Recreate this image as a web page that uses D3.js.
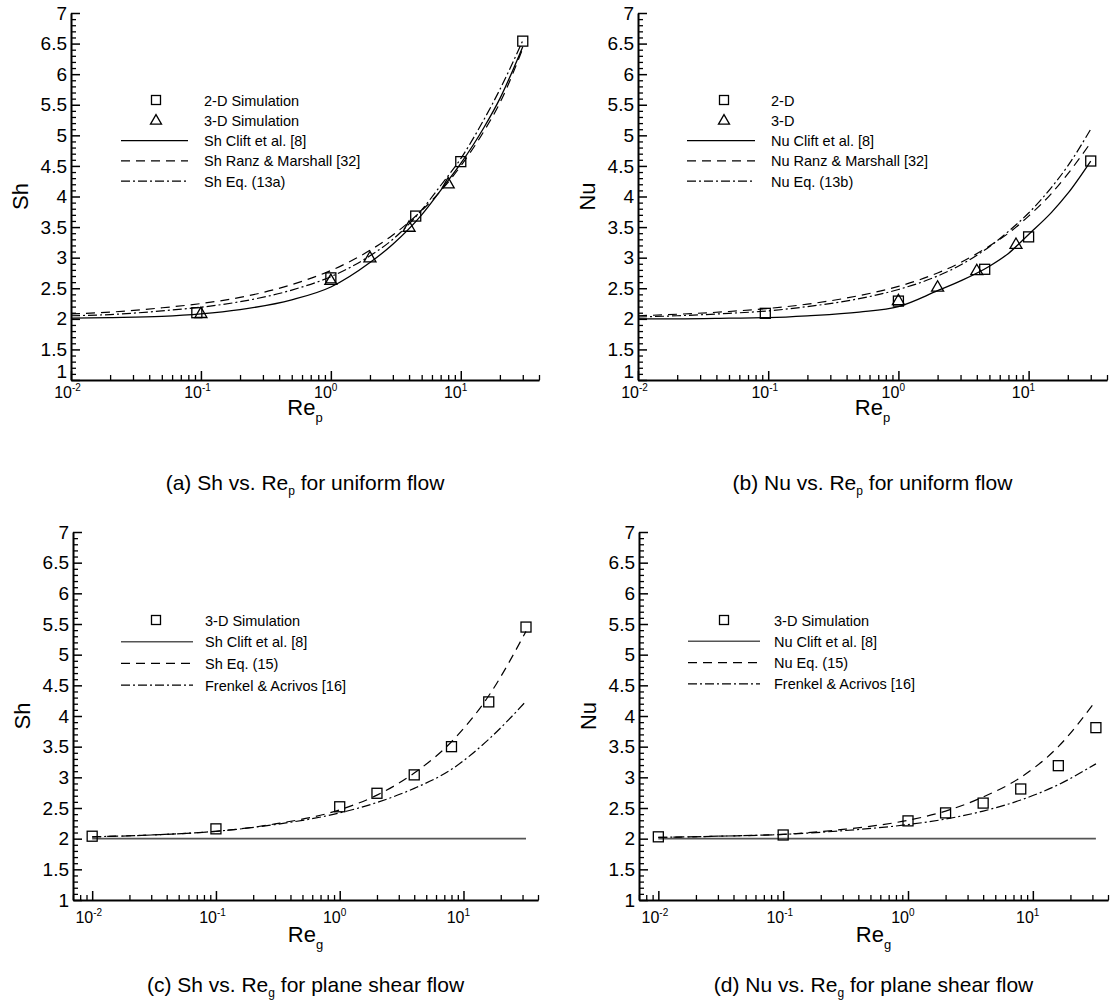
<!DOCTYPE html>
<html><head><meta charset="utf-8">
<script src="https://cdn.jsdelivr.net/npm/d3@7"></script>
<style>
body{margin:0;background:#fff}
svg{display:block}
text{font-family:"Liberation Sans",Arial,Helvetica,sans-serif;fill:#000}
</style>
</head><body>
<svg id="chart" width="1113" height="1004"></svg>
<script>
// ---------- DATA ----------
// Panel (a): Sh vs Re_p, uniform flow
const reLinesA   = [0.01,0.02,0.05,0.1,0.2,0.5,1,2,3,5,7,10,15,20,30];
const shClift    = [2.01,2.02,2.04,2.08,2.15,2.31,2.52,2.92,3.22,3.70,4.10,4.54,5.12,5.60,6.45];
const shRanz     = [2.08,2.11,2.18,2.25,2.35,2.56,2.79,3.12,3.37,3.77,4.09,4.50,5.06,5.53,6.42];
const shEq13a    = [2.05,2.07,2.13,2.19,2.28,2.47,2.69,3.03,3.30,3.78,4.18,4.62,5.25,5.75,6.55];
const reSq2DA    = [0.093,1,4.5,10,30];
const sh2D       = [2.10,2.67,3.68,4.57,6.54];
const reTri3DA   = [0.1,1,2,4,8];
const sh3D       = [2.09,2.63,3.00,3.50,4.21];

// Panel (b): Nu vs Re_p, uniform flow
const reLinesB   = [0.01,0.02,0.05,0.1,0.2,0.5,1,2,3,5,7,10,15,20,30];
const nuClift    = [2.00,2.00,2.01,2.02,2.05,2.11,2.20,2.46,2.62,2.86,3.07,3.38,3.74,4.05,4.58];
const nuRanz     = [2.05,2.075,2.12,2.17,2.24,2.38,2.53,2.75,2.92,3.19,3.40,3.68,4.05,4.37,4.88];
const nuEq13b    = [2.03,2.05,2.09,2.13,2.20,2.33,2.48,2.70,2.88,3.18,3.43,3.73,4.15,4.50,5.10];
const reSq2DB    = [0.095,1,4.6,10,30];
const nu2D       = [2.09,2.29,2.81,3.34,4.58];
const reTri3DB   = [1,2,4,8];
const nu3D       = [2.30,2.52,2.79,3.22];

// Panel (c): Sh vs Re_g, plane shear flow
const reG        = [0.01,0.1,1,2,4,8,16,32];
const shShear3D  = [2.04,2.16,2.52,2.74,3.04,3.50,4.23,5.45];
const reLinesG   = [0.01,0.03,0.1,0.3,1,2,4,8,16,32];
const shCliftG   = [2,2,2,2,2,2,2,2,2,2];
const shEq15     = [2.03,2.06,2.12,2.24,2.47,2.71,3.07,3.58,4.33,5.38];
const shFrenkel  = [2.03,2.06,2.12,2.23,2.42,2.59,2.82,3.13,3.62,4.24];

// Panel (d): Nu vs Re_g, plane shear flow
const nuShear3D  = [2.03,2.06,2.29,2.42,2.58,2.81,3.19,3.81];
const nuCliftG   = [2,2,2,2,2,2,2,2,2,2];
const nuEq15     = [2.02,2.04,2.07,2.15,2.30,2.45,2.68,3.00,3.50,4.25];
const nuFrenkel  = [2.02,2.04,2.07,2.13,2.23,2.32,2.45,2.63,2.88,3.22];

// Tick labels
const yTicks      = [1,1.5,2,2.5,3,3.5,4,4.5,5,5.5,6,6.5,7];
const yTickLabels = ["1","1.5","2","2.5","3","3.5","4","4.5","5","5.5","6","6.5","7"];
const xDecades    = [0.01,0.1,1,10];
const xDecadeExp  = ["-2","-1","0","1"];

// ---------- DRAWING ----------
const svg = d3.select("#chart");
const zip = (xs, ys) => xs.map((v,i)=>[v, ys[i]]);

const panels = [
  { x0:71, x1:539, yT:13, yB:380, xDomain:[0.01,40], yTitle:"Sh", xSub:"p", xlabPad:5, oneShift:-9, titleBase:415, capBase:490,
    caption:["(a) Sh vs. Re","p"," for uniform flow"],
    lines:[ {d:zip(reLinesA,shClift),s:"solid"}, {d:zip(reLinesA,shRanz),s:"dash"}, {d:zip(reLinesA,shEq13a),s:"dashdot"} ],
    squares:zip(reSq2DA,sh2D), tris:zip(reTri3DA,sh3D),
    legend:{sx:156, lx0:121, lx1:188, tx:204, y0:100, dy:20.3,
      items:[["sq","2-D Simulation"],["tri","3-D Simulation"],["solid","Sh Clift et al. [8]"],["dash","Sh Ranz & Marshall [32]"],["dashdot","Sh Eq. (13a)"]]}
  },
  { x0:638, x1:1107, yT:13, yB:380, xDomain:[0.01,40], yTitle:"Nu", xSub:"p", xlabPad:5, oneShift:-9, titleBase:415, capBase:490,
    caption:["(b) Nu vs. Re","p"," for uniform flow"],
    lines:[ {d:zip(reLinesB,nuClift),s:"solid"}, {d:zip(reLinesB,nuRanz),s:"dash"}, {d:zip(reLinesB,nuEq13b),s:"dashdot"} ],
    squares:zip(reSq2DB,nu2D), tris:zip(reTri3DB,nu3D),
    legend:{sx:724, lx0:687, lx1:755, tx:771, y0:100, dy:20.3,
      items:[["sq","2-D"],["tri","3-D"],["solid","Nu Clift et al. [8]"],["dash","Nu Ranz & Marshall [32]"],["dashdot","Nu Eq. (13b)"]]}
  },
  { x0:73, x1:538, yT:532, yB:900, xDomain:[0.007,40], yTitle:"Sh", xSub:"g", xlabPad:10, oneShift:0, titleBase:942, capBase:992,
    caption:["(c) Sh vs. Re","g"," for plane shear flow"],
    lines:[ {d:zip(reLinesG,shCliftG),s:"solidgray"}, {d:zip(reLinesG,shEq15),s:"dash"}, {d:zip(reLinesG,shFrenkel),s:"dashdot"} ],
    squares:zip(reG,shShear3D), tris:[],
    legend:{sx:156, lx0:121, lx1:193, tx:205, y0:620, dy:21.7,
      items:[["sq","3-D Simulation"],["solidgray","Sh Clift et al. [8]"],["dash","Sh Eq. (15)"],["dashdot","Frenkel & Acrivos [16]"]]}
  },
  { x0:639, x1:1108, yT:532, yB:900, xDomain:[0.007,40], yTitle:"Nu", xSub:"g", xlabPad:10, oneShift:0, titleBase:942, capBase:992,
    caption:["(d) Nu vs. Re","g"," for plane shear flow"],
    lines:[ {d:zip(reLinesG,nuCliftG),s:"solidgray"}, {d:zip(reLinesG,nuEq15),s:"dash"}, {d:zip(reLinesG,nuFrenkel),s:"dashdot"} ],
    squares:zip(reG,nuShear3D), tris:[],
    legend:{sx:724, lx0:688, lx1:760, tx:774, y0:620, dy:21.3,
      items:[["sq","3-D Simulation"],["solidgray","Nu Clift et al. [8]"],["dash","Nu Eq. (15)"],["dashdot","Frenkel & Acrivos [16]"]]}
  }
];

const styles = {
  solid:     {stroke:"#000", w:1.3, dash:null},
  solidgray: {stroke:"#555", w:1.6, dash:null},
  dash:      {stroke:"#000", w:1.2, dash:"9,6"},
  dashdot:   {stroke:"#000", w:1.2, dash:"9,3,2,3"}
};

function applyStyle(sel, key){
  const st = styles[key];
  sel.attr("fill","none").attr("stroke",st.stroke).attr("stroke-width",st.w);
  if (st.dash) sel.attr("stroke-dasharray",st.dash);
  return sel;
}
function drawSquare(g, cx, cy, s){
  g.append("rect").attr("x",cx-s/2).attr("y",cy-s/2).attr("width",s).attr("height",s)
   .attr("fill","none").attr("stroke","#000").attr("stroke-width",1.3);
}
function drawTri(g, cx, cy, s){
  const h = s*0.866;
  g.append("path").attr("d",`M${cx},${cy-h*0.6}L${cx+s/2},${cy+h*0.4}L${cx-s/2},${cy+h*0.4}Z`)
   .attr("fill","none").attr("stroke","#000").attr("stroke-width",1.3);
}

const yMinor = d3.range(10,71).map(v=>v/10).filter(v=>Math.abs(v*2-Math.round(v*2))>1e-6);

panels.forEach(p=>{
  const g = svg.append("g");
  const x = d3.scaleLog().domain(p.xDomain).range([p.x0,p.x1]);
  const y = d3.scaleLinear().domain([1,7]).range([p.yB,p.yT]);

  // x minor ticks
  const xMinor = [];
  [0.001,0.01,0.1,1,10].forEach(dec=>{ for(let k=2;k<=9;k++){ const v=dec*k; if(v>=p.xDomain[0]&&v<=p.xDomain[1]) xMinor.push(v);} });

  // y axis
  g.append("g").attr("transform",`translate(${p.x0},0)`)
    .call(d3.axisLeft(y).tickValues(yMinor).tickSizeInner(-5).tickSizeOuter(0).tickFormat(""))
    .call(s=>s.selectAll("line").attr("stroke-width",1.3));
  const ay = g.append("g").attr("transform",`translate(${p.x0},0)`)
    .call(d3.axisLeft(y).tickValues(yTicks).tickSizeInner(-9).tickSizeOuter(0).tickPadding(4)
      .tickFormat((d,i)=>yTickLabels[i]));
  ay.selectAll("line").attr("stroke-width",1.5);
  ay.select(".domain").attr("stroke-width",2);
  ay.selectAll("text").attr("font-size",19).attr("font-family",null).attr("fill","#000");
  ay.selectAll("text").filter(d=>d===1).attr("y",p.oneShift);

  // x axis
  g.append("g").attr("transform",`translate(0,${p.yB})`)
    .call(d3.axisBottom(x).tickValues(xMinor).tickSizeInner(-5).tickSizeOuter(0).tickFormat(""))
    .call(s=>s.selectAll("line").attr("stroke-width",1.3));
  const ax = g.append("g").attr("transform",`translate(0,${p.yB})`)
    .call(d3.axisBottom(x).tickValues(xDecades).tickSizeInner(-9).tickSizeOuter(0).tickFormat(""));
  ax.selectAll("line").attr("stroke-width",1.5);
  ax.select(".domain").attr("stroke-width",2);

  xDecades.forEach((d,i)=>{
    const xp = x(d), yp = p.yB + p.xlabPad + 13;
    g.append("text").attr("x",xp+1).attr("y",yp).attr("text-anchor","end").attr("font-size",16).text("10");
    g.append("text").attr("x",xp+1).attr("y",yp-7).attr("text-anchor","start").attr("font-size",10).text(xDecadeExp[i]);
  });

  // y title
  const ym = (p.yT+p.yB)/2;
  g.append("text").attr("transform",`translate(${p.x0-43},${ym}) rotate(-90)`)
    .attr("text-anchor","middle").attr("font-size",22).text(p.yTitle);

  // x title
  const xm = (p.x0+p.x1)/2;
  const xt = g.append("text").attr("x",xm).attr("y",p.titleBase).attr("text-anchor","middle").attr("font-size",22);
  xt.append("tspan").text("Re");
  xt.append("tspan").attr("font-size",13).attr("dy",7).text(p.xSub);

  // caption
  const ct = g.append("text").attr("x",xm).attr("y",p.capBase).attr("text-anchor","middle").attr("font-size",21);
  ct.append("tspan").text(p.caption[0]);
  ct.append("tspan").attr("font-size",12).attr("dy",5).text(p.caption[1]);
  ct.append("tspan").attr("dy",-5).text(p.caption[2]);

  // lines
  const line = d3.line().x(d=>x(d[0])).y(d=>y(d[1])).curve(d3.curveMonotoneX);
  p.lines.forEach(L=>{ applyStyle(g.append("path").attr("d",line(L.d)), L.s); });

  // markers
  p.squares.forEach(d=>drawSquare(g, x(d[0]), y(d[1]), 10));
  p.tris.forEach(d=>drawTri(g, x(d[0]), y(d[1]), 12));

  // legend
  const lg = p.legend;
  lg.items.forEach((it,i)=>{
    const ry = lg.y0 + i*lg.dy;
    if (it[0]==="sq") drawSquare(g, lg.sx, ry, 9);
    else if (it[0]==="tri") drawTri(g, lg.sx, ry, 11);
    else applyStyle(g.append("line").attr("x1",lg.lx0).attr("x2",lg.lx1).attr("y1",ry).attr("y2",ry), it[0]);
    g.append("text").attr("x",lg.tx).attr("y",ry+5.5).attr("font-size",14.5).text(it[1]);
  });
});
</script>
</body></html>
